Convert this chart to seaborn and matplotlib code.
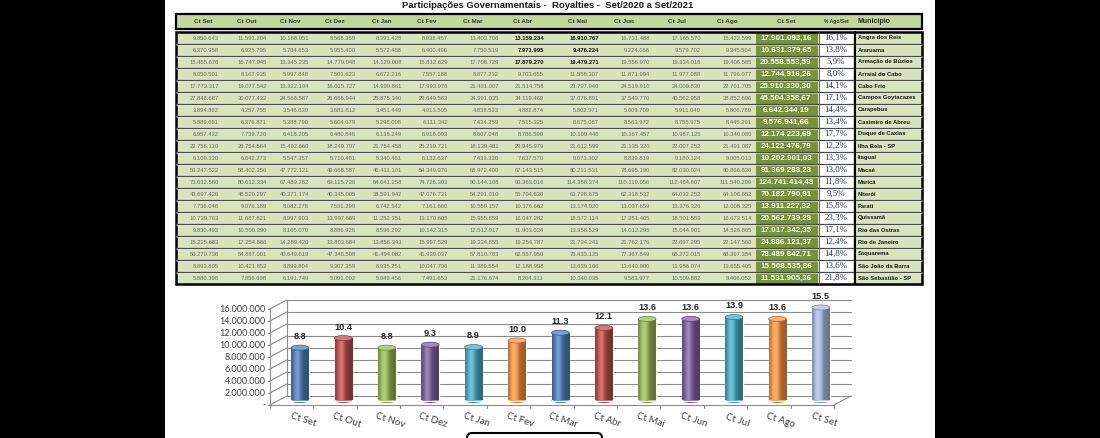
import numpy as np
import pandas as pd
import matplotlib; matplotlib.use("Agg")
import matplotlib.pyplot as plt
import seaborn as sns
from matplotlib.patches import Rectangle, Ellipse, FancyBboxPatch
from matplotlib.colors import to_rgb

sns.set_theme(style="white")
plt.rcParams["font.family"] = ["Liberation Sans", "DejaVu Sans"]

# ── DADOS ─────────────────────────────────────────────────────────────────────
TITULO = "Participações Governamentais -  Royalties -  Set/2020 a Set/2021"
COLUNAS_MES = ["Ct Set", "Ct Out", "Ct Nov", "Ct Dez", "Ct Jan", "Ct Fev",
               "Ct Mar", "Ct Abr", "Ct Mai", "Ct Jun", "Ct Jul", "Ct Ago"]

municipios = ["Angra dos Reis", "Araruama", "Armação de Búzios", "Arraial do Cabo",
              "Cabo Frio", "Campos Goytacazes", "Carapebus", "Casimiro de Abreu",
              "Duque de Caxias", "Ilha Bela - SP", "Itaguaí", "Macaé", "Maricá",
              "Niterói", "Parati", "Quissamã", "Rio das Ostras", "Rio de Janeiro",
              "Saquarema", "São João da Barra", "São Sebastião - SP"]

ct_set20 = [9850643, 6370958, 15455676, 8050501, 17773317, 27848687, 3894862, 5889691,
            6957432, 22756110, 6109330, 53247522, 73632580, 43697426, 7736046, 10739763,
            9830493, 15225683, 50279736, 8893805, 5880396]
ct_out = [11591204, 6925795, 16747945, 8167935, 19077542, 30077432, 4257755, 6376871,
          7739720, 26754564, 6642273, 58402356, 80612334, 48520297, 9076189, 11687821,
          10500390, 17254866, 54887001, 10421852, 7856698]
ct_nov = [10168951, 5784653, 13345235, 5997848, 13322194, 24566587, 3546639, 5388790,
          6418205, 15492660, 5547357, 47772121, 67489262, 40371174, 8082276, 8997903,
          8165070, 14289420, 40649619, 8899804, 6191749]
ct_dez = [8568369, 5955400, 14779048, 7501623, 16015727, 26666944, 3681812, 5604679,
          6480846, 18249797, 5710461, 49668587, 69115736, 40345005, 7531299, 13997669,
          8886926, 13803684, 47346508, 9307359, 5091092]
ct_jan = [8391428, 5572468, 14129008, 6672216, 14999861, 25875340, 3451449, 5298008,
          6138249, 21754458, 5340461, 46411101, 64641258, 38591942, 6742342, 11252351,
          8596292, 13856343, 41494082, 8935251, 5949456]
ct_fev = [8938457, 6400496, 15812629, 7557188, 17993978, 29649563, 4013505, 6111342,
          6918093, 25219721, 6132637, 54349976, 74726303, 47076731, 7161660, 13170605,
          10142315, 15997529, 41939037, 10047796, 7491653]
ct_mar = [13403706, 7750519, 17708729, 8877232, 21431007, 34991035, 4838533, 7434259,
          8607048, 18139481, 7433330, 65972400, 90144108, 54291010, 10559157, 15955859,
          12512917, 19334855, 57810783, 11389554, 21176674]
ct_abr = [13159234, 7971995, 17879270, 9703655, 21514758, 34119469, 4882874, 7515325,
          8786599, 29945979, 7637570, 67143515, 93363016, 55704630, 10376662, 16047282,
          11903034, 19254787, 62557950, 12188998, 8204311]
ct_mai = [16910767, 9476224, 19479271, 11558307, 23797940, 37076891, 5802971, 8675087,
          10109446, 21612599, 9073302, 80211531, 114388374, 63798675, 13174920, 18572114,
          13958529, 21734241, 76433125, 13639166, 10340035]
ct_jun = [16731488, 9224066, 19556970, 11871994, 24519910, 37549770, 5609709, 8563972,
          10167457, 21135320, 8839819, 78695190, 110119056, 62318532, 13037659, 17251405,
          14012295, 21762176, 77367849, 13640900, 9583977]
ct_jul = [17165570, 9579702, 19334016, 11977088, 24009830, 40562958, 5911040, 8755975,
          10987125, 22007252, 9180124, 82030024, 112464607, 64032252, 13376326, 18501559,
          15044901, 22697295, 68272015, 13986074, 10509882]
ct_ago = [15422599, 9345564, 19406585, 11796077, 22701705, 38852696, 5806789, 8445291,
          10340080, 21491087, 9005013, 80866636, 111540299, 64106652, 12008325, 16673514,
          14526865, 22147560, 68397384, 13655405, 9466052]
ct_set21 = [17901093.16, 10631379.65, 20558553.59, 12744916.26, 25910330.30, 45504358.67,
            6642344.19, 9576941.66, 12174223.69, 24122476.79, 10202901.03, 91369288.23,
            124741414.48, 70182790.91, 13911227.32, 20562739.28, 17017342.35, 24886121.37,
            78489842.71, 15508535.86, 11531905.36]
pct_ago_set = [16.1, 13.8, 5.9, 8.0, 14.1, 17.1, 14.4, 13.4, 17.7, 12.2, 13.3, 13.0, 11.8,
               9.5, 15.8, 23.3, 17.1, 12.4, 14.8, 13.6, 21.8]

# gráfico (médias em milhões)
rotulos_graf = COLUNAS_MES + ["Ct Set"]
valores_graf = [8.8, 10.4, 8.8, 9.3, 8.9, 10.0, 11.3, 12.1, 13.6, 13.6, 13.9, 13.6, 15.5]
cores_graf = ["#4F81BD", "#C0504D", "#9BBB59", "#8064A2", "#4BACC6", "#F79646",
              "#4F81BD", "#C0504D", "#9BBB59", "#8064A2", "#4BACC6", "#F79646", "#A9BCE0"]
ticks_y = [2, 4, 6, 8, 10, 12, 14, 16]
# ─────────────────────────────────────────────────────────────────────────────


def fmt_int(v):
    return f"{v:,}".replace(",", ".")


def fmt_dec(v):
    return f"{v:,.2f}".replace(",", "X").replace(".", ",").replace("X", ".")


def sombra(base, f):
    base = np.asarray(base)[None, :]
    f = np.asarray(f)[:, None]
    escuro = base * f
    claro = base + (1 - base) * (f - 1)
    return np.clip(np.where(f < 1, escuro, claro), 0, 1)


W, H = 1100, 438
fig = plt.figure(figsize=(W / 100, H / 100), dpi=100, facecolor="black")

bg = fig.add_axes([0, 0, 1, 1])
bg.set_xlim(0, W)
bg.set_ylim(H, 0)
bg.axis("off")
bg.add_patch(Rectangle((165, 0), 770, H, fc="white", ec="none"))

bg.text(548, 6, TITULO, ha="center", va="center", fontsize=6.8,
        fontweight="bold", color="#1a1a1a")

# ── TABELA ────────────────────────────────────────────────────────────────────
X0, X1 = 176, 922
bg.add_patch(Rectangle((X0, 14), X1 - X0, 15, fc="#C4D79B", ec="black", lw=1.6))
centros_cab = [203, 247, 290, 335, 382, 427, 473, 523, 577, 624, 677, 727]
dir_num = [219, 267, 309, 356, 402, 448, 499, 544, 599, 650, 701, 752]
for cx, nome in zip(centros_cab, COLUNAS_MES):
    bg.text(cx, 21.8, nome, ha="center", va="center", fontsize=4.6,
            fontweight="bold", color="#333333")
bg.text(786, 21.8, "Ct Set", ha="center", va="center", fontsize=4.6,
        fontweight="bold", color="#333333")
bg.text(836, 21.8, "% Ago/Set", ha="center", va="center", fontsize=3.6,
        fontweight="bold", color="#333333")
bg.text(858, 21.8, "Município", ha="left", va="center", fontsize=5,
        fontweight="bold", color="#222222")

TOP, PASSO = 32, 12.0
n = len(municipios)
BOT = TOP + PASSO * n
bg.add_patch(Rectangle((X0, TOP), X1 - X0, BOT - TOP, fc="#D7E4BD", ec="none"))
bg.add_patch(Rectangle((756, TOP), 62, BOT - TOP, fc="#76933C", ec="none"))
bg.add_patch(Rectangle((819, TOP), 34, BOT - TOP, fc="white", ec="none"))
for k in range(1, n):
    y = TOP + PASSO * k
    bg.plot([X0, X1], [y, y], color="#4a4a4a", lw=0.9)
    bg.plot([X0, X1], [y + 0.9, y + 0.9], color="#f2f6ea", lw=0.4)
bg.plot([855, 855], [TOP, BOT], color="black", lw=1.5)
bg.plot([819, 819], [TOP, BOT], color="#4a4a4a", lw=0.6)
bg.add_patch(Rectangle((X0, TOP), X1 - X0, BOT - TOP, fc="none", ec="black", lw=1.8))

colunas = [ct_set20, ct_out, ct_nov, ct_dez, ct_jan, ct_fev,
           ct_mar, ct_abr, ct_mai, ct_jun, ct_jul, ct_ago]
for i in range(n):
    yc = TOP + PASSO * (i + 0.5)
    for j, (col, xr) in enumerate(zip(colunas, dir_num)):
        negrito = j in (7, 8) and i < 3
        bg.text(xr, yc, fmt_int(col[i]), ha="right", va="center", fontsize=4.2,
                color="#111111" if negrito else "#6a6a6a",
                fontweight="bold" if negrito else "normal")
    bg.text(786, yc, fmt_dec(ct_set21[i]), ha="center", va="center", fontsize=5.8,
            fontweight="bold", color="white")
    bg.text(836, yc, f"{pct_ago_set[i]:.1f}%".replace(".", ","), ha="center",
            va="center", fontsize=6.5, color="#1F3F6E", family="Liberation Serif")
    bg.text(858, yc, municipios[i], ha="left", va="center", fontsize=4.2,
            fontweight="bold", color="#1a1a1a")

bg.add_patch(FancyBboxPatch((467, 433), 135, 20,
                            boxstyle="round,pad=0,rounding_size=5",
                            fc="white", ec="black", lw=1.5))

# ── GRÁFICO 3D (cilindros) ────────────────────────────────────────────────────
PX_CAT, PX_MI, CX0, Y0 = 43.4, 6.0, 300, 400.5
ax = fig.add_axes([262 / W, 1 - 432 / H, 600 / W, 142 / H])

df = pd.DataFrame({"mes": [str(i) for i in range(len(valores_graf))],
                   "valor": np.array(valores_graf) * 1e6})
sns.barplot(data=df, x="mes", y="valor", hue="mes", palette=cores_graf,
            legend=False, width=0.41, saturation=1, ax=ax, zorder=3)

DX, DY = 0.196, 0.75e6
ELL = 0.85e6
grade = "#8c8c8c"
for v in [0] + ticks_y:
    v *= 1e6
    ax.plot([-0.5 - DX, -0.5 + DX], [v - DY, v + DY], color=grade, lw=0.8, zorder=1)
    ax.plot([-0.5 + DX, 12.5 + DX], [v + DY, v + DY], color=grade, lw=0.8, zorder=1)
    ax.plot([-0.5 - DX - 0.05, -0.5 - DX], [v - DY, v - DY], color=grade, lw=0.8)
ax.plot([-0.5 - DX] * 2, [-DY, 16e6 - DY], color=grade, lw=0.8, zorder=1)
ax.plot([-0.5 + DX] * 2, [DY, 16e6 + DY], color=grade, lw=0.8, zorder=1)
ax.plot([-0.5 - DX, 12.5 - DX], [-DY, -DY], color=grade, lw=0.8, zorder=1)
ax.plot([12.5 - DX, 12.5 + DX], [-DY, DY], color=grade, lw=0.8, zorder=1)
for k in range(len(valores_graf) + 1):
    xt = k - 0.5 - DX
    ax.plot([xt, xt], [-DY, -DY - 0.5e6], color=grade, lw=0.8)

t = np.linspace(0, 1, 80)
perfil = 0.72 + 0.55 * np.exp(-((t - 0.35) / 0.22) ** 2) - 0.1 * t
for p, val, rot in zip(ax.patches, valores_graf, rotulos_graf):
    x0, w, h = p.get_x(), p.get_width(), p.get_height()
    base = np.array(to_rgb(p.get_facecolor()))
    cx = x0 + w / 2
    ax.add_patch(Ellipse((cx, 0), w, ELL, fc=sombra(base, perfil)[5] * 0.85,
                         ec="none", zorder=2.9))
    img = sombra(base, perfil)[None, :, :]
    im = ax.imshow(img, extent=(x0, x0 + w, 0, h), aspect="auto", origin="lower",
                   interpolation="bilinear", zorder=3.1)
    im.set_clip_path(p)
    ax.add_patch(Ellipse((cx, h), w, ELL, fc=sombra(base, [1.25])[0],
                         ec=base * 0.7, lw=0.5, zorder=3.2))
    ax.text(cx, h + 1.85e6, f"{val:.1f}", ha="center", va="center", fontsize=6.6,
            fontweight="bold", color="#262626", zorder=4)
    ax.text(cx + 0.07, -3.25e6, rot, ha="center", va="center", fontsize=7,
            rotation=-18, color="#404040", family="Lato", rotation_mode="anchor")

for v in ticks_y:
    ax.text(-0.5 - DX - 0.1, v * 1e6 - DY, fmt_int(v * 1000000), ha="right",
            va="center", fontsize=6.5, color="#404040", family="Lato")
ax.text(-0.5 - DX - 0.1, -DY, "-", ha="right", va="center", fontsize=6.5,
        color="#404040", family="Lato")

ax.set_xlim(-38 / PX_CAT, 562 / PX_CAT)
ax.set_ylim(-(432 - Y0) / PX_MI * 1e6, (Y0 - 290) / PX_MI * 1e6)
ax.axis("off")

fig.savefig("out.png", dpi=100, facecolor="black")
